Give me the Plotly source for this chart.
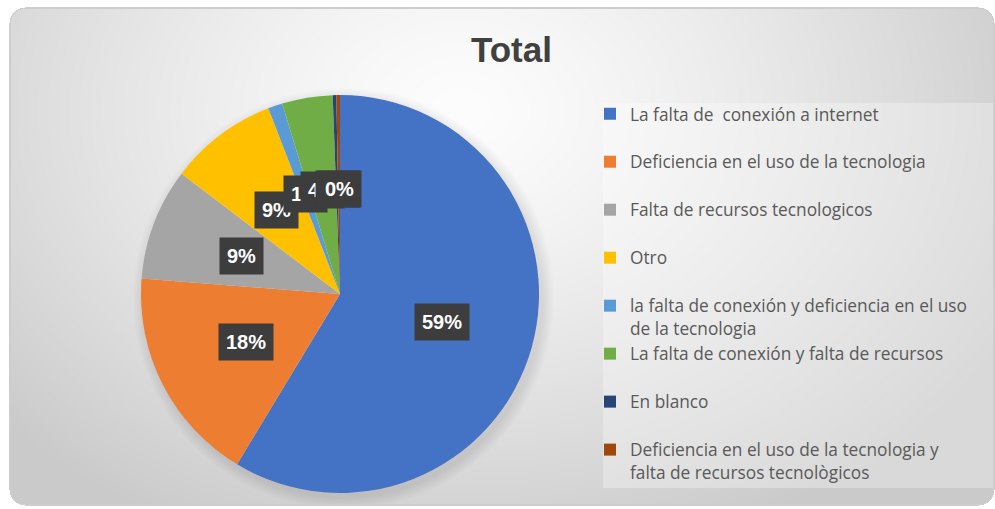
import math, zlib, struct, base64, textwrap
import numpy as np
import plotly.graph_objects as go

# ---------------- data ----------------
categories = [
    "La falta de  conexión a internet",
    "Deficiencia en el uso de la tecnologia",
    "Falta de recursos tecnologicos",
    "Otro",
    "la falta de conexión y deficiencia en el uso de la tecnologia",
    "La falta de conexión y falta de recursos",
    "En blanco",
    "Deficiencia en el uso de la tecnologia y falta de recursos tecnològicos",
]
values = [200, 60, 31, 30, 4, 14, 1, 1]
colors = ["#4472C4", "#ED7D31", "#A5A5A5", "#FFC000",
          "#5B9BD5", "#70AD47", "#264478", "#9E480E"]
title_text = "Total"

# ---------------- layout constants ----------------
W, H = 995, 509
CX, CY, R = 340, 294, 199          # pie centre / radius in pixels
LABEL_R = 0.53 * R

# ---------------- background image (gradient panel) ----------------
yy, xx = np.mgrid[0:H, 0:W].astype(float)
t = np.sqrt(((xx - 460) / 620) ** 2 + ((yy - 110) / 470) ** 2)
t = np.clip(t, 0, 1)
v = 253 - 51 * t ** 1.3
leg = (xx >= 603) & (xx <= 993) & (yy >= 103) & (yy <= 487)
v = np.where(leg, v + (255 - v) * 0.3, v)
# soft shadow around the pie
dpie = np.sqrt((xx - (CX + 3)) ** 2 + (yy - (CY + 4)) ** 2) - R
v = v - 22 * np.clip(1 - dpie / 12, 0, 1) * (dpie > -6)
# rounded rectangle mask
x0, y0, x1, y1, rr = 9, 7, 994, 505, 16
cxr = np.clip(xx, x0 + rr, x1 - rr)
cyr = np.clip(yy, y0 + rr, y1 - rr)
dist = np.sqrt((xx - cxr) ** 2 + (yy - cyr) ** 2)
inside = dist <= rr
edge = (dist > rr - 1.2) & inside
img = np.full((H, W), 255.0)
img = np.where(inside, v, img)
img = np.where(edge, 205, img)
img = np.clip(img, 0, 255).astype(np.uint8)
rgb = np.stack([img, img, img], axis=-1)


def png_uri(arr):
    h, w, _ = arr.shape
    raw = b"".join(b"\x00" + arr[i].tobytes() for i in range(h))

    def chunk(tag, data):
        return (struct.pack(">I", len(data)) + tag + data +
                struct.pack(">I", zlib.crc32(tag + data) & 0xffffffff))

    png = (b"\x89PNG\r\n\x1a\n" +
           chunk(b"IHDR", struct.pack(">IIBBBBB", w, h, 8, 2, 0, 0, 0)) +
           chunk(b"IDAT", zlib.compress(raw, 9)) + chunk(b"IEND", b""))
    return "data:image/png;base64," + base64.b64encode(png).decode()


# ---------------- legend labels (wrapped, each entry two lines tall) ----------------
def legend_label(s):
    lines = textwrap.wrap(s, width=45)
    if len(lines) < 2:
        lines.append("\u00a0")
    return "<br>".join(lines)


legend_labels = [legend_label(c) for c in categories]

fig = go.Figure()
fig.add_trace(go.Pie(
    labels=legend_labels,
    values=values,
    marker=dict(colors=colors, line=dict(width=0)),
    sort=False,
    direction="clockwise",
    rotation=0,
    textinfo="none",
    hoverinfo="label+percent",
    domain=dict(x=[(CX - R) / W, (CX + R) / W],
                y=[(H - CY - R) / H, (H - CY + R) / H]),
    showlegend=True,
))

# ---------------- percentage labels (dark boxes) ----------------
total = sum(values)
cum = 0
annotations = []
for val in values:
    frac_mid = (cum + val / 2) / total
    cum += val
    th = 2 * math.pi * frac_mid
    px = CX + LABEL_R * math.sin(th)
    py = (H - CY) + LABEL_R * math.cos(th)
    annotations.append(dict(
        x=px / W, y=py / H, xref="paper", yref="paper",
        text=f"<b>{round(100 * val / total)}%</b>", showarrow=False,
        font=dict(family="Liberation Sans, Arial", size=20, color="white"),
        bgcolor="#3d3d3d", borderpad=7,
        xanchor="center", yanchor="middle",
    ))

fig.update_layout(
    width=W, height=H,
    margin=dict(l=0, r=0, t=0, b=0),
    paper_bgcolor="white",
    title=dict(text=f"<b>{title_text}</b>", x=0.514, xanchor="center",
               y=1 - 50 / H, yanchor="middle",
               font=dict(family="Liberation Sans, Arial", size=35, color="#404040")),
    legend=dict(x=590 / W, y=1 - 96 / H, xanchor="left", yanchor="top",
                valign="top", bgcolor="rgba(0,0,0,0)",
                font=dict(family="Open Sans, Noto Sans", size=17.3, color="#595959"),
                itemclick=False, itemdoubleclick=False),
    annotations=annotations,
    images=[dict(source=png_uri(rgb), xref="paper", yref="paper",
                 x=0, y=1, sizex=1, sizey=1, xanchor="left", yanchor="top",
                 sizing="stretch", layer="below")],
)

fig.write_html("out.html",
               config={"displayModeBar": False},
               post_script="document.body.style.margin='0px';document.body.style.overflow='hidden';")
